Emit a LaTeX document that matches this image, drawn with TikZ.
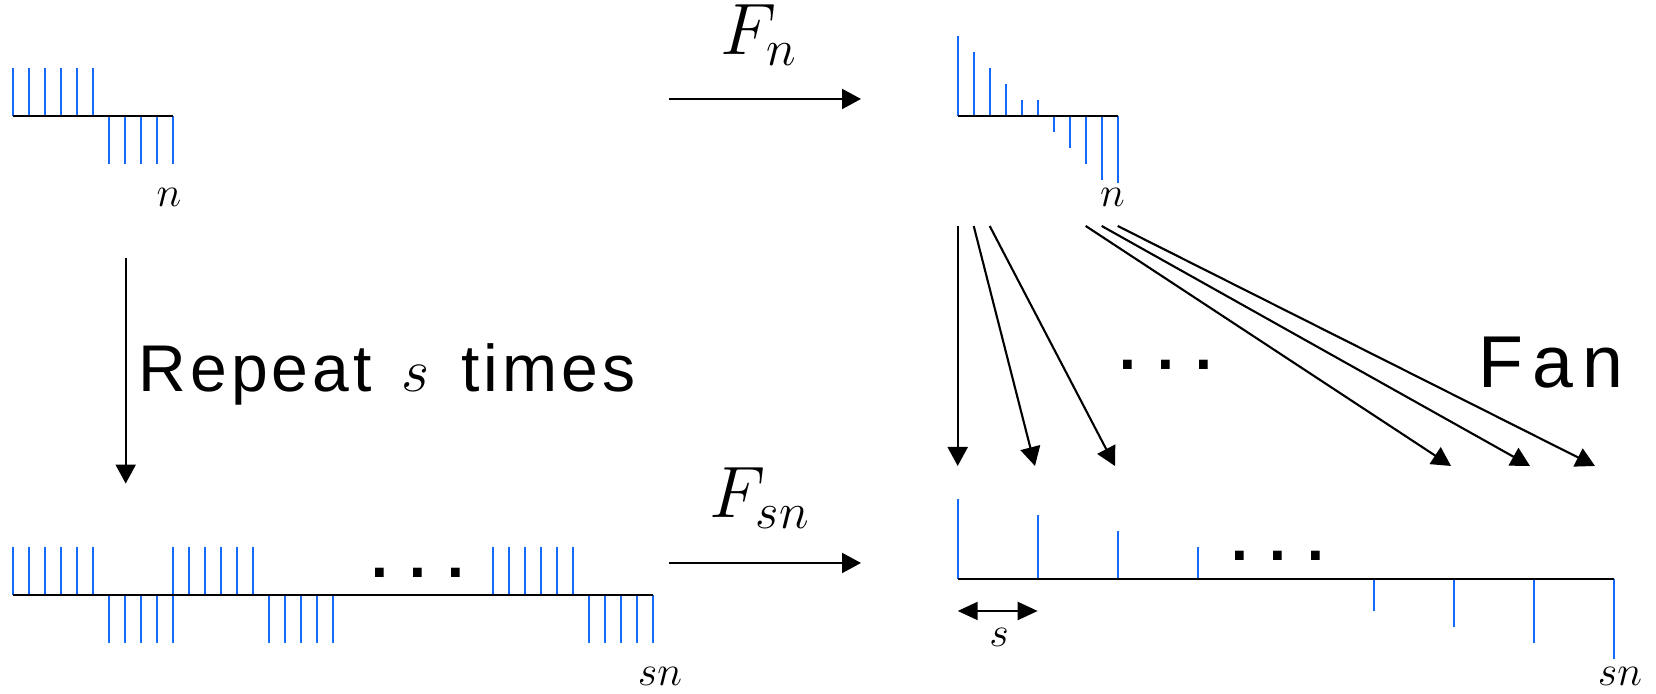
\documentclass[tikz,border=0pt]{standalone}
\usepackage{fontspec}
\usepackage{amsmath,amssymb}
\usetikzlibrary{arrows.meta}
\newfontfamily\repeatfont{Liberation Sans}[LetterSpace=6]
\newfontfamily\fanfont{Liberation Sans}[LetterSpace=12]
\newfontfamily\dotfont{DejaVu Sans}
\definecolor{tickBlue}{RGB}{20,104,250}

\begin{document}
\begin{tikzpicture}[
  tick/.style={tickBlue,line width=.6pt},
  axis/.style={black,line width=.7pt},
  map/.style={line width=.6pt,-{Triangle[length=.19cm,width=.2cm]}},
  lbl/.style={inner sep=0pt,anchor=base,font=\fontsize{12.5}{14}\selectfont},
  dotrow/.style={inner sep=0pt,font=\dotfont\bfseries\fontsize{14}{16}\selectfont}]
\useasboundingbox (0,0) rectangle (16.56,6.94);

% one block of n
\foreach \k in {0,...,5} \draw[tick] (0.133+0.16*\k,5.78) -- ++(0,0.48);
\foreach \k in {6,...,10} \draw[tick] (0.133+0.16*\k,5.78) -- ++(0,-0.48);
\draw[axis] (0.133,5.78) -- (1.733,5.78);
\node[lbl] (nTop) at (1.69,4.873) {$n$};

% the block after F_n
\foreach \k/\h in {0/5,1/4,2/3,3/2,4/1,5/1,6/-1,7/-2,8/-3,9/-4,10/-4.2}
  \draw[tick] (9.577+0.16*\k,5.78) -- ++(0,0.16*\h);
\draw[axis] (9.577,5.78) -- (11.177,5.78);
\node[lbl] (nFan) at (11.125,4.873) {$n$};

% s blocks in a row
\foreach \j in {0,1,3} {
  \foreach \k in {0,...,5} \draw[tick] (0.133+1.6*\j+0.16*\k,0.99) -- ++(0,0.48);
  \foreach \k in {6,...,10} \draw[tick] (0.133+1.6*\j+0.16*\k,0.99) -- ++(0,-0.48);
}
\draw[axis] (0.133,0.99) -- (6.533,0.99);
\node[dotrow] (dotsRep) at (4.18,1.215) {.\hspace{.195cm}.\hspace{.195cm}.};
\node[lbl] (snRep) at (6.6,0.08) {$sn$};

% after F_sn
\foreach \x/\h in {9.577/5,10.377/4,11.177/3,11.977/2,13.737/-2,14.537/-3,15.337/-4,16.137/-5}
  \draw[tick] (\x,1.15) -- ++(0,0.16*\h);
\draw[axis] (9.577,1.15) -- (16.137,1.15);
\node[dotrow] (dotsOut) at (12.78,1.38) {.\hspace{.195cm}.\hspace{.195cm}.};
\node[lbl] (snFan) at (16.2,0.08) {$sn$};

\coordinate (gapL) at (9.577,0.83);
\coordinate (gapR) at (10.377,0.83);
\draw[line width=.6pt,{Triangle[length=.2cm,width=.18cm]}-{Triangle[length=.2cm,width=.18cm]}] (gapL) -- (gapR);
\node[lbl] (sGap) at (9.99,0.47) {$s$};

% maps
\coordinate (fnTail) at (6.69,5.95);
\coordinate (fnHead) at (8.61,5.95);
\draw[map] (fnTail) -- (fnHead);
\node[inner sep=0pt,anchor=base,font=\fontsize{20}{22}\selectfont] (fn) at (7.59,6.39) {$F_n$};

\coordinate (fsnTail) at (6.69,1.31);
\coordinate (fsnHead) at (8.61,1.31);
\draw[map] (fsnTail) -- (fsnHead);
\node[inner sep=0pt,anchor=base,font=\fontsize{20}{22}\selectfont] (fsn) at (7.6,1.76) {$F_{sn}$};

\coordinate (repTail) at (1.257,4.363);
\coordinate (repHead) at (1.257,2.104);
\draw[map] (repTail) -- (repHead);
\node[inner sep=0pt,anchor=base west,font=\repeatfont\fontsize{18.8}{22}\selectfont] (rep) at (1.38,3.02) {Repeat\hspace{.3cm}$s$\hspace{.32cm}times};

% fan
\foreach \i/\a/\b in {1/9.577/9.577,2/9.737/10.35,3/9.897/11.15,4/10.857/14.51,5/11.017/15.30,6/11.177/15.95} {
  \coordinate (fanTail\i) at (\a,4.68);
  \coordinate (fanHead\i) at (\b,2.28);
  \draw[map] (fanTail\i) -- (fanHead\i);
}
\node[dotrow] (dotsFan) at (11.66,3.295) {.\hspace{.195cm}.\hspace{.195cm}.};
\node[inner sep=0pt,anchor=base west,font=\fanfont\fontsize{20.9}{24}\selectfont] (fan) at (14.78,3.06) {Fan};
\end{tikzpicture}
\end{document}
